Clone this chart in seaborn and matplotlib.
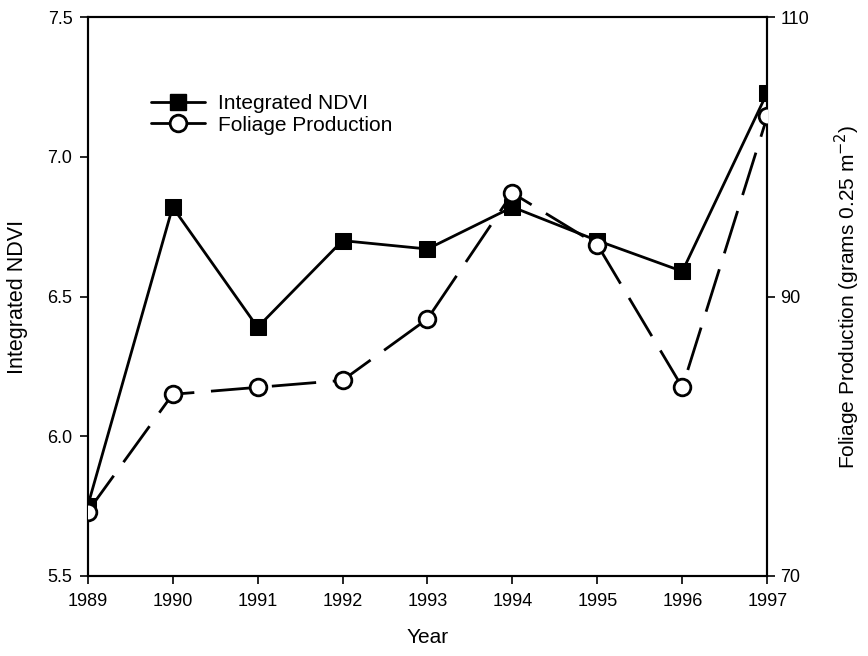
import matplotlib
matplotlib.use("Agg")
import matplotlib.pyplot as plt
from matplotlib.lines import Line2D
import seaborn as sns
import pandas as pd

# values
years = [1989, 1990, 1991, 1992, 1993, 1994, 1995, 1996, 1997]
ndvi = [5.75, 6.82, 6.39, 6.70, 6.67, 6.82, 6.70, 6.59, 7.23]
foliage = [74.6, 83.0, 83.5, 84.0, 88.4, 97.4, 93.7, 83.5, 102.9]

df = pd.DataFrame({"Year": years, "NDVI": ndvi, "Foliage": foliage})

sns.set_style("ticks")
plt.rcParams["font.family"] = ["Liberation Sans", "DejaVu Sans"]
plt.rcParams["text.color"] = "black"
plt.rcParams["axes.labelcolor"] = "black"

fig = plt.figure(figsize=(8.68, 6.56), dpi=100)
ax = fig.add_axes([0.101, 0.122, 0.783, 0.852])
ax2 = ax.twinx()

sns.lineplot(data=df, x="Year", y="NDVI", ax=ax, color="black", lw=2,
             marker="s", markersize=11, markeredgecolor="black",
             legend=False, zorder=3)
sns.lineplot(data=df, x="Year", y="Foliage", ax=ax2, color="black", lw=2,
             marker="o", markersize=12, markerfacecolor="white",
             markeredgecolor="black", markeredgewidth=2,
             legend=False, zorder=3)
ax2.lines[0].set_dashes([16, 6])

ax.set_xlim(1989, 1997)
ax.set_ylim(5.5, 7.5)
ax2.set_ylim(70, 110)
ax.set_xticks(years)
ax.set_yticks([5.5, 6.0, 6.5, 7.0, 7.5])
ax2.set_yticks([70, 90, 110])

for a in (ax, ax2):
    a.tick_params(labelsize=13, length=6, width=1.2, colors="black")
    for s in a.spines.values():
        s.set_linewidth(1.5)
        s.set_color("black")
ax.tick_params(axis="x", pad=6.5)
ax.tick_params(axis="y", pad=5)

ax.set_xlabel("Year", fontsize=15, labelpad=13)
ax.set_ylabel("Integrated NDVI", fontsize=15.5, labelpad=14)
ax2.set_ylabel("Foliage Production (grams 0.25 m$^{-2}$)", fontsize=15,
               labelpad=17)

# legend keys drawn solid, as in the original figure
handles = [
    Line2D([], [], color="black", lw=2, marker="s", markersize=11),
    Line2D([], [], color="black", lw=2, marker="o", markersize=12,
           markerfacecolor="white", markeredgewidth=2),
]
ax2.legend(handles, ["Integrated NDVI", "Foliage Production"],
           loc="upper left", bbox_to_anchor=(0.066, 0.895),
           frameon=False, fontsize=15, handlelength=2.6,
           handletextpad=0.6, labelspacing=0.1)

fig.savefig("out.png", dpi=100)
